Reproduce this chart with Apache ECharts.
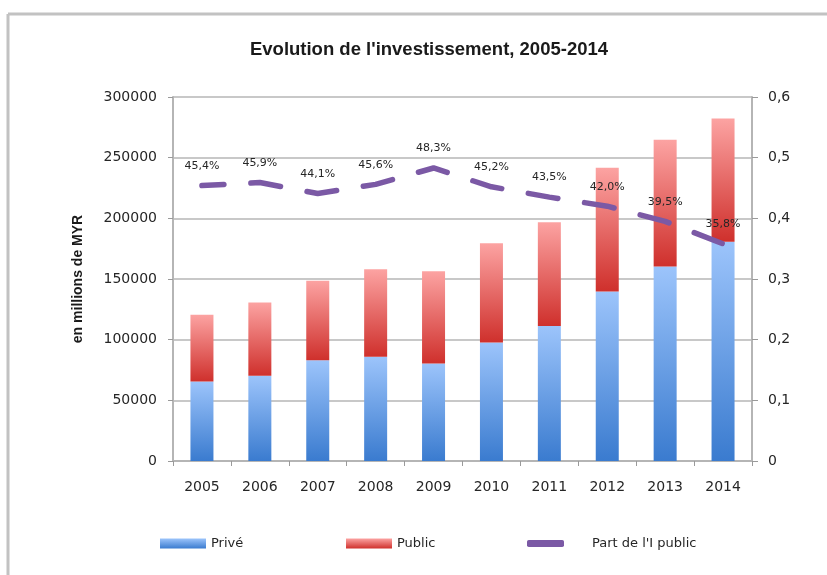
<!DOCTYPE html>
<html>
<head>
<meta charset="utf-8">
<script src="https://cdn.jsdelivr.net/npm/echarts@6/dist/echarts.min.js"></script>
<style>
html,body{margin:0;padding:0;background:#fff;}
#main{width:827px;height:575px;}
</style>
</head>
<body>
<div id="main"></div>
<script>
var years = ['2005','2006','2007','2008','2009','2010','2011','2012','2013','2014'];
var prive = [65500, 70200, 83100, 85900, 80400, 97700, 111200, 139800, 160200, 180800];
var publicInv = [55100, 60500, 65500, 72100, 75900, 81700, 85600, 101900, 104600, 101400];
var partPublic = [0.454, 0.459, 0.441, 0.456, 0.483, 0.452, 0.435, 0.420, 0.395, 0.358];

var font = 'DejaVu Sans';

function grad(top, bottom){
	return new echarts.graphic.LinearGradient(0, 0, 0, 1, [
		{offset: 0, color: top},
		{offset: 1, color: bottom}
	]);
}

var dom = document.getElementById('main');
var myChart = echarts.init(dom);
var option = {
	animation: false,
	title: {
		text: "Evolution de l'investissement, 2005-2014",
		left: 424,
		top: 35,
		textAlign: 'center',
		textStyle: {fontFamily: 'Liberation Sans', fontSize: 18.5, fontWeight: 'bold', color: '#1a1a1a'}
	},
	graphic: [
		{type: 'line', shape: {x1: 8, y1: 14, x2: 827, y2: 14}, style: {stroke: '#c2c2c2', lineWidth: 3}},
		{type: 'line', shape: {x1: 8, y1: 14, x2: 8, y2: 575}, style: {stroke: '#c2c2c2', lineWidth: 3}}
	],
	legend: [
		{data: ['Privé'], left: 155, top: 532, itemWidth: 46, itemHeight: 10, icon: 'rect',
			textStyle: {fontFamily: font, fontSize: 13, color: '#262626'}},
		{data: ['Public'], left: 341, top: 532, itemWidth: 46, itemHeight: 10, icon: 'rect',
			textStyle: {fontFamily: font, fontSize: 13, color: '#262626'}},
		{data: ["Part de l'I public"], left: 522, top: 532, itemWidth: 37, itemHeight: 7, icon: 'roundRect',
			textStyle: {fontFamily: font, fontSize: 13, color: '#262626', padding: [0, 0, 0, 23]}}
	],
	grid: {left: 173, right: 75, top: 97, bottom: 114},
	xAxis: {
		type: 'category',
		data: years,
		axisLine: {lineStyle: {color: '#b5b5b5', width: 2}},
		axisTick: {show: true, length: 5, lineStyle: {color: '#9a9a9a'}},
		axisLabel: {margin: 19, fontFamily: font, fontSize: 14, color: '#262626'}
	},
	yAxis: [
		{
			type: 'value',
			min: 0, max: 300000, interval: 50000,
			name: 'en millions de MYR',
			nameLocation: 'middle',
			nameRotate: 90,
			nameGap: 88,
			nameTextStyle: {fontFamily: 'Liberation Sans', fontSize: 14, fontWeight: 'bold', color: '#1a1a1a'},
			axisLine: {show: true, lineStyle: {color: '#b5b5b5', width: 2}},
			axisTick: {show: true, length: 5, lineStyle: {color: '#9a9a9a'}},
			axisLabel: {
				margin: 16, fontFamily: font, fontSize: 14, color: '#262626',
				formatter: function(v){ return String(v); }
			},
			splitLine: {lineStyle: {color: '#c8c8c8', width: 2}}
		},
		{
			type: 'value',
			min: 0, max: 0.6, interval: 0.1,
			position: 'right',
			axisLine: {show: true, lineStyle: {color: '#b5b5b5', width: 2}},
			axisTick: {show: true, length: 6, lineStyle: {color: '#9a9a9a'}},
			axisLabel: {
				margin: 16, fontFamily: font, fontSize: 14, color: '#262626',
				formatter: function(v){ return v === 0 ? '0' : v.toFixed(1).replace('.', ','); }
			},
			splitLine: {show: false}
		}
	],
	series: [
		{
			name: 'Privé',
			type: 'bar',
			stack: 'inv',
			barWidth: 23,
			data: prive,
			itemStyle: {color: grad('#9cc4fb', '#3a7bcf')}
		},
		{
			name: 'Public',
			type: 'bar',
			stack: 'inv',
			barWidth: 23,
			data: publicInv,
			itemStyle: {color: grad('#fca3a2', '#cf302c')}
		},
		{
			name: "Part de l'I public",
			type: 'line',
			yAxisIndex: 1,
			data: partPublic,
			symbol: 'circle',
			symbolSize: 0.01,
			itemStyle: {color: '#7b59a5'},
			lineStyle: {color: '#7b59a5', width: 5.5, type: [30, 27], dashOffset: 8, cap: 'round'},
			label: {
				show: true,
				position: 'top',
				distance: 14,
				fontFamily: font,
				fontSize: 11,
				color: '#262626',
				formatter: function(p){ return (p.value * 100).toFixed(1).replace('.', ',') + '%'; }
			},
			z: 5
		}
	]
};
myChart.setOption(option);
</script>
</body>
</html>
